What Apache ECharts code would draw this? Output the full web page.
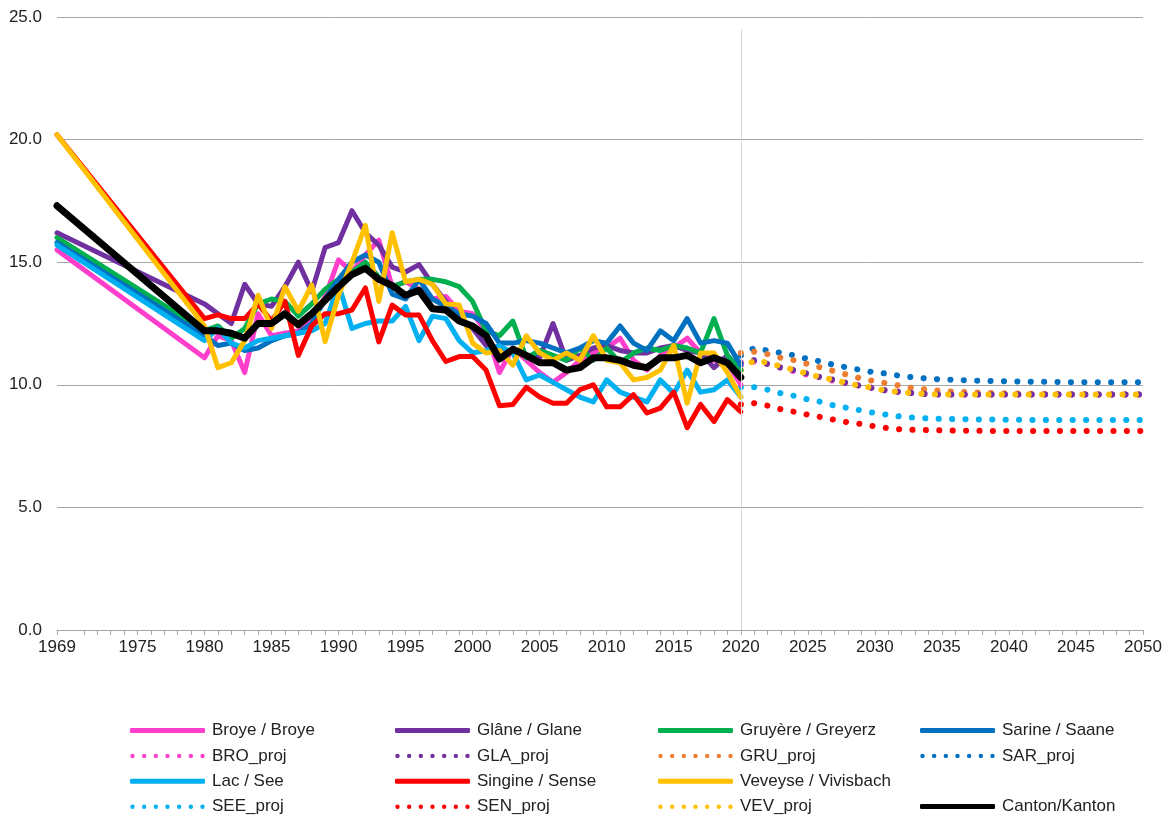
<!DOCTYPE html>
<html>
<head>
<meta charset="utf-8">
<script src="https://cdn.jsdelivr.net/npm/echarts@6/dist/echarts.min.js"></script>
<style>
  html, body { margin: 0; padding: 0; background: #fff; }
  #main { width: 1170px; height: 818px; }
</style>
</head>
<body>
<div id="main"></div>
<script>
// observed years: 1969, then 1980..2020
const histYears = [1969, 1980, 1981, 1982, 1983, 1984, 1985, 1986, 1987, 1988, 1989,
  1990, 1991, 1992, 1993, 1994, 1995, 1996, 1997, 1998, 1999,
  2000, 2001, 2002, 2003, 2004, 2005, 2006, 2007, 2008, 2009,
  2010, 2011, 2012, 2013, 2014, 2015, 2016, 2017, 2018, 2019, 2020]
const projYears = [2020, 2021, 2022, 2023, 2024, 2025, 2026, 2027, 2028, 2029,
  2030, 2031, 2032, 2033, 2034, 2035, 2036, 2037, 2038, 2039,
  2040, 2041, 2042, 2043, 2044, 2045, 2046, 2047, 2048, 2049, 2050]

const broye = [15.5, 11.1, 12.0, 11.8, 10.5, 12.9, 12.0, 12.1, 12.2, 12.6, 13.6,
  15.1, 14.6, 15.3, 15.9, 14.0, 14.2, 13.9, 13.5, 13.6, 13.0,
  12.9, 12.2, 10.5, 11.5, 11.0, 10.5, 10.1, 10.5, 11.0, 11.3,
  11.5, 11.9, 11.0, 10.6, 11.2, 11.5, 11.9, 11.3, 11.0, 10.9, 10.0]
const glane = [16.2, 13.3, 12.9, 12.5, 14.1, 13.3, 13.2, 14.0, 15.0, 13.8, 15.6,
  15.8, 17.1, 16.2, 15.7, 14.8, 14.6, 14.9, 14.1, 13.4, 12.7,
  12.3, 11.6, 11.3, 11.4, 11.2, 11.1, 12.5, 11.0, 11.2, 11.5,
  11.6, 11.4, 11.3, 11.3, 11.5, 11.6, 11.4, 11.3, 10.7, 11.2, 10.6]
const gruyere = [16.0, 12.2, 12.4, 11.9, 12.3, 13.3, 13.5, 13.4, 12.8, 13.3, 13.9,
  14.3, 14.6, 15.0, 14.4, 14.0, 14.2, 14.3, 14.3, 14.2, 14.0,
  13.4, 12.2, 12.0, 12.6, 11.1, 11.4, 11.2, 11.0, 11.5, 11.0,
  11.5, 10.9, 11.3, 11.5, 11.4, 11.6, 11.5, 11.3, 12.7, 11.2, 10.6]
const sarine = [15.8, 12.0, 11.6, 11.7, 11.4, 11.5, 11.8, 12.0, 12.1, 12.5, 13.5,
  14.3, 15.0, 15.3, 15.0, 13.7, 13.5, 14.3, 13.5, 13.2, 12.9,
  12.8, 12.5, 11.7, 11.7, 11.8, 11.7, 11.5, 11.3, 11.5, 11.8,
  11.7, 12.4, 11.7, 11.4, 12.2, 11.8, 12.7, 11.7, 11.8, 11.7, 10.8]
const lac = [15.7, 11.8, 12.3, 11.7, 11.5, 11.8, 11.9, 12.0, 12.1, 12.2, 12.5,
  14.1, 12.3, 12.5, 12.6, 12.6, 13.2, 11.8, 12.8, 12.7, 11.8,
  11.3, 11.4, 11.6, 11.3, 10.2, 10.4, 10.1, 9.8, 9.5, 9.3,
  10.2, 9.7, 9.5, 9.3, 10.2, 9.65, 10.6, 9.7, 9.8, 10.2, 9.5]
const singine = [20.2, 12.7, 12.85, 12.7, 12.7, 13.3, 12.6, 13.4, 11.2, 12.4, 12.9,
  12.9, 13.05, 13.95, 11.75, 13.25, 12.85, 12.85, 11.8, 10.95, 11.15,
  11.15, 10.6, 9.15, 9.2, 9.9, 9.5, 9.25, 9.25, 9.8, 10.0,
  9.1, 9.1, 9.6, 8.85, 9.05, 9.7, 8.25, 9.2, 8.5, 9.4, 8.9]
const veveyse = [20.2, 12.4, 10.7, 10.9, 11.8, 13.65, 12.3, 14.0, 13.0, 14.07, 11.76,
  13.65, 15.0, 16.5, 13.4, 16.2, 14.2, 14.3, 14.1, 13.3, 13.25,
  11.7, 11.3, 11.4, 10.8, 12.0, 11.3, 11.0, 11.3, 11.0, 12.0,
  11.0, 10.9, 10.2, 10.3, 10.6, 11.6, 9.25, 11.3, 11.3, 10.5, 9.5]
const canton = [17.3, 12.2, 12.2, 12.1, 11.9, 12.5, 12.5, 12.9, 12.45, 12.9, 13.45,
  14.0, 14.5, 14.75, 14.3, 14.05, 13.65, 13.85, 13.1, 13.05, 12.6,
  12.4, 12.0, 11.05, 11.45, 11.2, 10.9, 10.9, 10.6, 10.7, 11.1,
  11.1, 11.0, 10.8, 10.7, 11.1, 11.1, 11.2, 10.9, 11.1, 10.9, 10.3]

const broProj = [10.8, 10.95, 10.85, 10.7, 10.55, 10.4, 10.3, 10.15, 10.05, 9.95,
  9.85, 9.75, 9.7, 9.65, 9.62, 9.6, 9.6, 9.6, 9.6, 9.6,
  9.6, 9.6, 9.6, 9.6, 9.6, 9.6, 9.6, 9.6, 9.6, 9.6, 9.6]
const glaProj = [10.9, 11.0, 10.85, 10.7, 10.6, 10.45, 10.3, 10.2, 10.05, 9.95,
  9.85, 9.75, 9.7, 9.65, 9.62, 9.6, 9.6, 9.6, 9.6, 9.6,
  9.6, 9.6, 9.6, 9.6, 9.6, 9.6, 9.6, 9.6, 9.6, 9.6, 9.6]
const gruProj = [11.3, 11.35, 11.25, 11.1, 11.0, 10.85, 10.7, 10.55, 10.4, 10.25,
  10.15, 10.05, 9.95, 9.85, 9.8, 9.75, 9.72, 9.7, 9.68, 9.66,
  9.65, 9.64, 9.63, 9.62, 9.62, 9.61, 9.61, 9.6, 9.6, 9.6, 9.6]
const sarProj = [11.2, 11.5, 11.4, 11.3, 11.2, 11.05, 10.95, 10.8, 10.7, 10.6,
  10.5, 10.45, 10.35, 10.3, 10.25, 10.22, 10.2, 10.18, 10.16, 10.15,
  10.14, 10.13, 10.12, 10.12, 10.11, 10.1, 10.1, 10.1, 10.1, 10.1, 10.1]
const seeProj = [9.9, 9.9, 9.8, 9.65, 9.55, 9.4, 9.3, 9.15, 9.05, 8.95,
  8.85, 8.77, 8.7, 8.66, 8.63, 8.61, 8.6, 8.59, 8.58, 8.58,
  8.57, 8.57, 8.56, 8.56, 8.56, 8.56, 8.56, 8.56, 8.56, 8.56, 8.56]
const senProj = [9.2, 9.25, 9.15, 9.0, 8.9, 8.78, 8.68, 8.57, 8.47, 8.4,
  8.3, 8.23, 8.18, 8.16, 8.15, 8.14, 8.13, 8.13, 8.12, 8.12,
  8.12, 8.12, 8.12, 8.12, 8.12, 8.12, 8.12, 8.12, 8.12, 8.12, 8.12]
const vevProj = [10.6, 11.0, 10.9, 10.75, 10.6, 10.45, 10.3, 10.2, 10.05, 9.95,
  9.85, 9.75, 9.7, 9.65, 9.62, 9.6, 9.6, 9.6, 9.6, 9.6,
  9.6, 9.6, 9.6, 9.6, 9.6, 9.6, 9.6, 9.6, 9.6, 9.6, 9.6]

const FONT = 'Liberation Sans, Arial, sans-serif'
const FS = 17

const pair = (years, vals) => years.map((y, i) => [y, vals[i]])

// legend icons: thick bar for observed, row of dots for projections
const solidIcon = 'roundRect'
let dotPath = 'path://'
for (let i = 0; i < 7; i++) {
  const cx = 2.5 + i * 11.667
  dotPath += 'M' + (cx - 2.2) + ',2.5a2.2,2.2 0 1,0 4.4,0a2.2,2.2 0 1,0 -4.4,0'
}
dotPath += 'M0,0M75,5'

function solid(name, color, years, vals, width) {
  return {
    name: name,
    type: 'line',
    data: pair(years, vals),
    symbol: 'none',
    color: color,
    lineStyle: { color: color, width: width || 5, cap: 'round', join: 'round' }
  }
}

function dotted(name, color, vals) {
  return {
    name: name,
    type: 'line',
    data: pair(projYears, vals),
    symbol: 'none',
    color: color,
    lineStyle: { color: color, width: 6, type: [0.1, 13.3], cap: 'round' }
  }
}

const series = [
  dotted('BRO_proj', '#FF3FCC', broProj),
  dotted('SEN_proj', '#FF0000', senProj),
  dotted('SEE_proj', '#00B0F0', seeProj),
  dotted('SAR_proj', '#0070C0', sarProj),
  dotted('GRU_proj', '#ED7D31', gruProj),
  dotted('GLA_proj', '#7030A0', glaProj),
  dotted('VEV_proj', '#FFC000', vevProj),
  solid('Broye / Broye', '#FF3FCC', histYears, broye),
  solid('Glâne / Glane', '#7030A0', histYears, glane),
  solid('Gruyère / Greyerz', '#00B050', histYears, gruyere),
  solid('Sarine / Saane', '#0070C0', histYears, sarine),
  solid('Lac / See', '#00B0F0', histYears, lac),
  solid('Singine / Sense', '#FF0000', histYears, singine),
  solid('Veveyse / Vivisbach', '#FFC000', histYears, veveyse),
  solid('Canton/Kanton', '#000000', histYears, canton, 7)
]

// thin grey divider at 2020
series[0].markLine = {
  silent: true,
  symbol: ['none', 'none'],
  label: { show: false },
  lineStyle: { color: '#d9d9d9', width: 1, type: 'solid' },
  data: [[{ coord: [2020, 0] }, { coord: [2020, 24.5] }]]
}

function legendCol(left, top, names) {
  return {
    orient: 'vertical',
    left: left,
    top: top,
    height: 200,
    padding: 0,
    itemWidth: 75,
    itemHeight: 5,
    itemGap: 8.4,
    selectedMode: false,
    textStyle: { fontFamily: FONT, fontSize: FS, color: '#222', padding: [0, 0, 0, 2] },
    data: names.map((n) => ({ name: n, icon: n.indexOf('_proj') > 0 ? dotPath : solidIcon }))
  }
}

const chart = echarts.init(document.getElementById('main'))
chart.setOption({
  animation: false,
  backgroundColor: '#fff',
  grid: { left: 57, right: 27, top: 17, bottom: 188 },
  xAxis: {
    type: 'value',
    min: 1969,
    max: 2050,
    interval: 1,
    splitLine: { show: false },
    axisLine: { lineStyle: { color: '#a6a6a6', width: 1 } },
    axisTick: { show: true, length: 5, lineStyle: { color: '#a6a6a6' } },
    axisLabel: {
      fontFamily: FONT,
      fontSize: FS,
      color: '#222',
      margin: 9,
      showMinLabel: true,
      showMaxLabel: true,
      formatter: (v) => (v === 1969 || v % 5 === 0 ? String(v) : '')
    }
  },
  yAxis: {
    type: 'value',
    min: 0,
    max: 25,
    interval: 5,
    axisLine: { show: false },
    axisTick: { show: false },
    splitLine: { lineStyle: { color: '#a6a6a6', width: 1 } },
    axisLabel: {
      fontFamily: FONT,
      fontSize: FS,
      color: '#222',
      margin: 15,
      formatter: (v) => v.toFixed(1)
    }
  },
  legend: [
    legendCol(130, 722, ['Broye / Broye', 'BRO_proj', 'Lac / See', 'SEE_proj']),
    legendCol(395, 722, ['Glâne / Glane', 'GLA_proj', 'Singine / Sense', 'SEN_proj']),
    legendCol(658, 722, ['Gruyère / Greyerz', 'GRU_proj', 'Veveyse / Vivisbach', 'VEV_proj']),
    legendCol(920, 722, ['Sarine / Saane', 'SAR_proj']),
    legendCol(920, 798, ['Canton/Kanton'])
  ],
  series: series
})
</script>
</body>
</html>
